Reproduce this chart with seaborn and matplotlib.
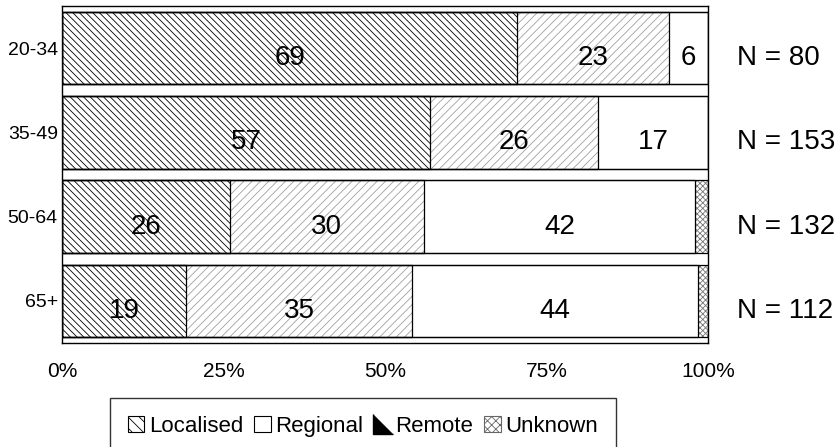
import pandas as pd
import matplotlib.pyplot as plt
import seaborn as sns
from matplotlib.patches import Patch, Rectangle
from matplotlib.lines import Line2D

# Data (share of each age group, %)
ages = ["20-34", "35-49", "50-64", "65+"]
categories = ["Localised", "Regional", "Remote", "Unknown"]
localised = [70.5, 57.0, 26.0, 19.2]
regional = [23.5, 26.0, 30.0, 35.0]
remote = [6.0, 17.0, 42.0, 44.2]
unknown = [0.0, 0.0, 2.0, 1.6]
shown_labels = [[69, 23, 6], [57, 26, 17], [26, 30, 42], [19, 35, 44]]
group_n = [80, 153, 132, 112]

sns.set_style("white")
plt.rcParams["font.family"] = ["Liberation Sans", "DejaVu Sans"]
plt.rcParams["text.color"] = "black"
plt.rcParams["xtick.color"] = "black"
plt.rcParams["ytick.color"] = "black"
plt.rcParams["hatch.linewidth"] = 0.6

df = pd.DataFrame({"age": ages, "Localised": localised, "Regional": regional,
                   "Remote": remote, "Unknown": unknown})
cum = df[categories].cumsum(axis=1)
cum["age"] = ages

hatches = {"Localised": "\\\\\\\\\\", "Regional": "////", "Remote": "", "Unknown": "xxxxxx"}
hatch_col = {"Localised": "black", "Regional": "#a0a0a0", "Remote": "white", "Unknown": "#777777"}

fig = plt.figure(figsize=(8.39, 4.47), dpi=100)
ax = fig.add_axes([0.0739, 0.2327, 0.7700, 0.7539])

# stacked bars: draw cumulative totals from the last category to the first
for cat in reversed(categories):
    n0 = len(ax.patches)
    sns.barplot(data=cum, x=cat, y="age", orient="h", color="white", width=0.86,
                ax=ax, saturation=1)
    for p in ax.patches[n0:]:
        p.set_facecolor("white")
        p.set_hatch(hatches[cat])
        p.set_edgecolor(hatch_col[cat])
        p.set_linewidth(0)
        if p.get_width() > 0:
            ax.add_patch(Rectangle(p.get_xy(), p.get_width(), p.get_height(),
                                   fill=False, edgecolor="black", linewidth=0.9, zorder=3))

# segment labels
for i, row in df.iterrows():
    left = 0
    for j, cat in enumerate(categories[:3]):
        w = row[cat]
        ax.text(left + w / 2, i + 0.12, str(shown_labels[i][j]), ha="center", va="center",
                fontsize=20, zorder=4)
        left += w
    ax.text(104.5, i + 0.12, f"N = {group_n[i]}", ha="left", va="center", fontsize=20,
            clip_on=False)

ax.set_xlim(0, 100)
ax.set_ylim(3.5, -0.5)
ax.set_xticks([0, 25, 50, 75, 100])
ax.set_xticklabels(["0%", "25%", "50%", "75%", "100%"], fontsize=15)
ax.set_yticks(range(len(ages)))
ax.set_yticklabels(ages, fontsize=14)
ax.tick_params(axis="x", length=0, pad=14)
ax.tick_params(axis="y", length=0, pad=3)
ax.set_xlabel("")
ax.set_ylabel("")
for s in ax.spines.values():
    s.set_visible(True)
    s.set_color("black")
    s.set_linewidth(1)

handles = [
    Patch(facecolor="white", edgecolor="black", hatch="\\\\\\", linewidth=0.8),
    Patch(facecolor="white", edgecolor="black", linewidth=0.8),
    Line2D([0], [0], linestyle="none", marker=[(-1, 1), (-1, -1), (1, -1)],
           markerfacecolor="black", markeredgecolor="black", markersize=14),
    Patch(facecolor="white", edgecolor="#666666", hatch="xxxx", linewidth=0.8),
]
leg = fig.legend(handles, categories, loc="upper left", bbox_to_anchor=(0.131, 0.1096),
                 borderaxespad=0, ncol=4, fontsize=16, handlelength=0.75,
                 handleheight=0.75, handletextpad=0.2, columnspacing=0.5,
                 fancybox=False, borderpad=0.8)
leg.get_frame().set_edgecolor("black")
leg.get_frame().set_linewidth(1)

plt.savefig("out.png", dpi=100)
